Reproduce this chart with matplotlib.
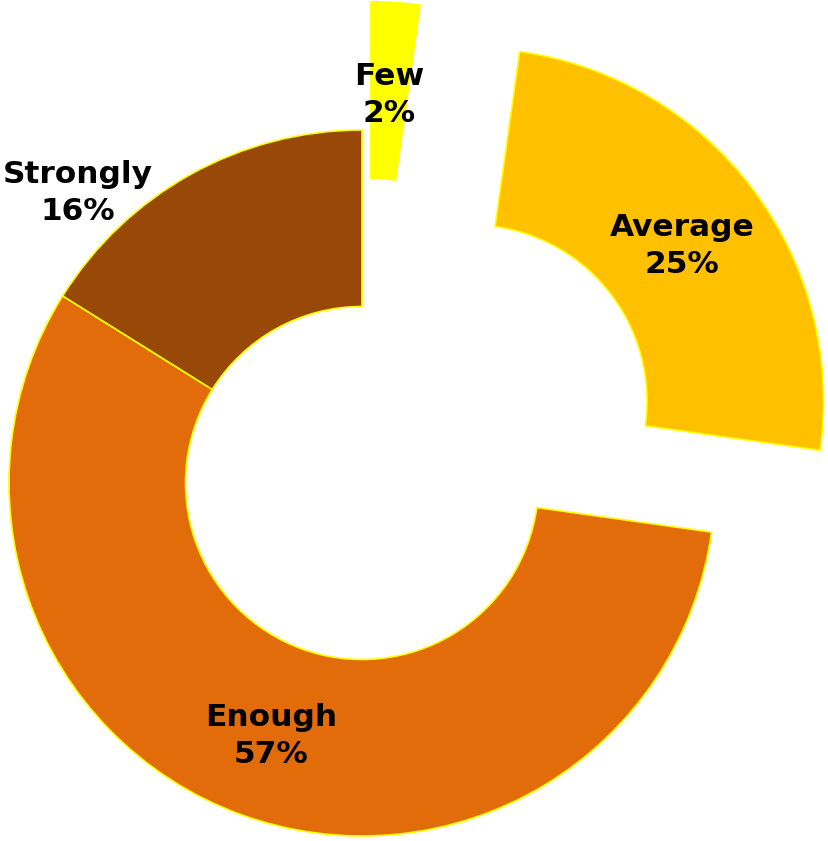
import numpy as np
import matplotlib.pyplot as plt

# survey answers (counts), shown as rounded percentages
labels = ["Few", "Average", "Enough", "Strongly"]
counts = [4, 45, 102, 29]
colors = ["#FFFF00", "#FFC000", "#E36C0A", "#984807"]
explode = [0.364, 0.385, 0.0, 0.0]

pct = [100 * c / sum(counts) for c in counts]

fig = plt.figure(figsize=(8.29, 8.41), dpi=100)
ax = fig.add_axes([0, 0, 1, 1])

wedges, _ = ax.pie(counts, colors=colors, explode=explode, startangle=90,
                   counterclock=False, radius=1.0,
                   wedgeprops=dict(width=0.5, edgecolor="#FFFF00", linewidth=1.2))

for i, w in enumerate(wedges):
    mid = np.deg2rad((w.theta1 + w.theta2) / 2)
    cx, cy = w.center
    r = 0.75
    if labels[i] == "Strongly":
        # label sits outside the ring, up and left
        cx, cy = 0, 0
        r = 1.16
        mid = np.deg2rad(134)
    ax.text(cx + r * np.cos(mid), cy + r * np.sin(mid) - 0.013,
            f"{labels[i]}\n{pct[i]:.0f}%", ha="center", va="center",
            fontsize=22.5, fontweight="bold", family="DejaVu Sans",
            linespacing=1.35)

ax.set_xlim(-362 / 353, 467 / 353)
ax.set_ylim(-358 / 353, 483 / 353)
ax.set_aspect("equal")
ax.axis("off")

fig.savefig("out.png", dpi=100)
